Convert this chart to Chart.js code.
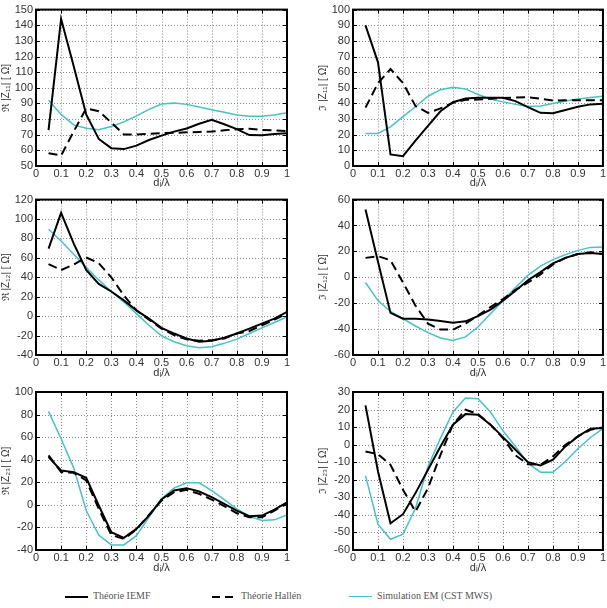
<!DOCTYPE html>
<html><head><meta charset="utf-8">
<script src="https://cdn.jsdelivr.net/npm/chart.js@4.4.0/dist/chart.umd.min.js"></script>
<style>
html,body{margin:0;padding:0;background:#fff;width:607px;height:608px;overflow:hidden;position:relative}
canvas{position:absolute;display:block}
.lt{position:absolute;top:590px;font-family:"Liberation Serif","DejaVu Serif",serif;font-size:10px;color:#555;white-space:nowrap;line-height:12px}
.ll{position:absolute;top:596px;height:0}
</style>
</head><body>
<canvas id="c1" width="300" height="190" style="left:0;top:0"></canvas>
<canvas id="c2" width="307" height="190" style="left:300px;top:0"></canvas>
<canvas id="c3" width="300" height="190" style="left:0;top:190px"></canvas>
<canvas id="c4" width="307" height="190" style="left:300px;top:190px"></canvas>
<canvas id="c5" width="300" height="195" style="left:0;top:380px"></canvas>
<canvas id="c6" width="307" height="195" style="left:300px;top:380px"></canvas>

<div class="ll" style="left:65px;width:23px;border-top:2px solid #000"></div>
<div class="lt" style="left:93px">Théorie IEMF</div>
<div class="ll" style="left:212px;width:8px;border-top:2px solid #000"></div>
<div class="ll" style="left:225px;width:8px;border-top:2px solid #000"></div>
<div class="lt" style="left:241px">Théorie Hallén</div>
<div class="ll" style="left:349px;width:23px;border-top:1.5px solid #45c4c4"></div>
<div class="lt" style="left:377px">Simulation EM (CST MWS)</div>

<script>
// ---- data ----
const xValues = [0.05,0.1,0.15,0.2,0.25,0.3,0.35,0.4,0.45,0.5,0.55,0.6,0.65,0.7,0.75,0.8,0.85,0.9,0.95,1.0];
const seriesNames = ["Théorie IEMF","Théorie Hallén","Simulation EM (CST MWS)"];

// Re Z11
const re11_iemf   = [73,144,114,83,67.3,61.4,60.8,63,66.6,69.4,72,74,77,79.5,76.7,73.6,69.8,69.6,70.4,71];
const re11_hallen = [58.2,56.7,72,86.8,85,77.8,70.2,70.2,70.5,71,71.2,71.5,71.8,72,72.8,73.5,73.8,73,72.8,72.3];
const re11_cst    = [92,83,76.3,74.2,73.2,75.3,78.2,82,86.2,89.6,90.2,89.4,87.7,86,84.3,82.6,81.8,81.8,82.6,84];
// Im Z11
const im11_iemf   = [89.9,66.3,7.4,6.3,16.2,25.7,35,40.8,43.2,43.6,43.6,43.6,41.5,37.7,34,33.7,35.8,37.9,39.4,39.8];
const im11_hallen = [37.3,53,62,53,38.3,34,36.8,40.4,42.3,42.5,43,43.5,43.8,44,43,41.9,42,42,42,42];
const im11_cst    = [20.8,20.8,25,31.6,37.9,44.6,48.8,50.3,49.3,45.7,42.9,41,39.4,38,38.3,40,41.5,42.9,43.8,44.6];
// Re Z12
const re12_iemf   = [69.6,106.4,75,47.5,33.2,25.4,16.2,6,-2.6,-12,-17.9,-23,-26.4,-25.4,-22.3,-17.9,-12.8,-7.7,-2.6,4.3];
const re12_hallen = [53.6,47.5,53,60.4,54.6,40,21.3,6,-3.6,-12.8,-19.6,-23.7,-25.4,-24.7,-23,-17.9,-15.3,-9.5,-3.6,2.5];
const re12_cst    = [89.4,77.4,63.8,50.2,37.3,25.4,14.5,2.6,-9.4,-20.3,-26.4,-30.5,-32.5,-31.5,-28,-23.7,-17.9,-12.1,-6.6,-0.9];
// Im Z12
const im12_iemf   = [52.4,12,-27.5,-32,-32,-32.5,-33.8,-35,-34,-30,-25,-18,-10.4,-2.3,4,10.7,15,18,18.8,18];
const im12_hallen = [15,16.3,13.2,-4,-21.9,-35.8,-40.4,-40.4,-35.8,-29.5,-23,-16.8,-9.7,-4,2.3,9.9,15,18,19.3,18];
const im12_cst    = [-4,-18,-26.4,-32,-37.6,-42.7,-46.8,-48.8,-46,-38.4,-28.2,-18,-7.9,1.5,8.6,13.7,17.5,20.8,23.1,23.4];
// Re Z23
const re23_iemf   = [42.3,30.5,29,24,-0.6,-24.3,-29.3,-21.3,-9.5,4.7,12.7,14.8,11.8,6.8,0.9,-5.1,-10.1,-9.5,-4.2,2.3];
const re23_hallen = [43.8,29,28.4,21.6,-3.6,-26.7,-30.2,-21.9,-8.9,3.8,11.2,13.3,9.7,4.7,-1.2,-7.4,-11,-11,-5,1];
const re23_cst    = [82.8,58.6,32.8,-5,-26.7,-35.5,-35.5,-27.3,-11,5.3,14.8,19.5,19.5,12.7,4.7,-3.6,-10.1,-13.9,-13.3,-8.9];
// Im Z23
const im23_iemf   = [22.4,-15.3,-44.8,-39.6,-27.6,-14.3,-1,11.4,17.4,17.1,11.4,4.3,-2.9,-10,-11.9,-8.6,-1,4.7,9.1,9.5];
const im23_hallen = [-3.9,-5.4,-11.5,-25.7,-38.1,-24.8,-5.8,11.4,19.9,17.4,11.4,3.7,-6.1,-11.1,-11.5,-6.7,0,4.7,8.5,9.8];
const im23_cst    = [-17.6,-45.3,-53.9,-51,-36.2,-12.4,3.7,18.6,26.6,26.2,18.6,7.9,-1,-10.5,-15.7,-15.7,-9.6,-2.3,4.1,9.1];

// axis settings per panel
const yTitles = ["ℜ |Z₁₁| [ Ω]","ℑ |Z₁₁| [ Ω]","ℜ |Z₁₂| [ Ω]","ℑ |Z₁₂| [ Ω]","ℜ |Z₂₃| [ Ω]","ℑ |Z₂₃| [ Ω]"];
const yRanges = [[50,150,10],[0,100,10],[-40,120,20],[-60,60,20],[-40,100,20],[-60,30,10]];
const xTitle = "dᵢ/λ";

const CYAN = '#45c4c4';
const framePlugin = {
  id:'frame',
  beforeDatasetsDraw(chart){
    // dotted grid
    const {ctx, chartArea:a, scales} = chart;
    ctx.save();
    ctx.strokeStyle = '#8a8a8a';
    ctx.lineWidth = 1;
    ctx.setLineDash([1,2]);
    ctx.beginPath();
    scales.x.ticks.forEach(t=>{
      const px = Math.round(scales.x.getPixelForValue(t.value))+0.5;
      ctx.moveTo(px,a.top); ctx.lineTo(px,a.bottom);
    });
    scales.y.ticks.forEach(t=>{
      const py = Math.round(scales.y.getPixelForValue(t.value))+0.5;
      ctx.moveTo(a.left,py); ctx.lineTo(a.right,py);
    });
    ctx.stroke();
    ctx.restore();
  },
  afterDatasetsDraw(chart){
    const {ctx, chartArea:a, scales} = chart;
    ctx.save();
    ctx.strokeStyle = '#000';
    ctx.lineWidth = 1;
    ctx.beginPath();
    scales.x.ticks.forEach(t=>{
      const px = Math.round(scales.x.getPixelForValue(t.value))+0.5;
      ctx.moveTo(px,a.bottom); ctx.lineTo(px,a.bottom-4);
      ctx.moveTo(px,a.top); ctx.lineTo(px,a.top+4);
    });
    scales.y.ticks.forEach(t=>{
      const py = Math.round(scales.y.getPixelForValue(t.value))+0.5;
      ctx.moveTo(a.left,py); ctx.lineTo(a.left+4,py);
      ctx.moveTo(a.right,py); ctx.lineTo(a.right-4,py);
    });
    ctx.stroke();
    ctx.lineWidth = 2;
    ctx.strokeRect(a.left, a.top, a.right-a.left, a.bottom-a.top);
    ctx.restore();
  }
};

function makeChart(id, idx, padL, padR, padT, axisH, sets){
  const r = yRanges[idx];
  const toPts = arr => xValues.map((x,i)=>({x, y:arr[i]}));
  new Chart(document.getElementById(id), {
    type:'line',
    data:{datasets:[
      {label:seriesNames[0], data:toPts(sets[0]), borderColor:'#000', borderWidth:2, pointRadius:0, tension:0},
      {label:seriesNames[1], data:toPts(sets[1]), borderColor:'#000', borderWidth:2, borderDash:[9,5], pointRadius:0, tension:0},
      {label:seriesNames[2], data:toPts(sets[2]), borderColor:CYAN, borderWidth:1.5, pointRadius:0, tension:0}
    ]},
    options:{
      responsive:false, animation:false, devicePixelRatio:1,
      layout:{padding:{left:padL,right:padR,top:padT,bottom:0}},
      plugins:{legend:{display:false}, tooltip:{enabled:false}},
      scales:{
        x:{type:'linear', min:0, max:1,
          ticks:{stepSize:0.1, color:'#333', font:{family:'Liberation Sans', size:11}, padding:1, maxRotation:0, autoSkip:false,
                 callback:v=>String(Number(v.toFixed(2)))},
          grid:{color:'rgba(0,0,0,0)', drawTicks:false},
          border:{display:false},
          title:{display:true, text:xTitle, color:'#333', font:{family:'Liberation Sans', size:11}, padding:{top:0,bottom:0}},
          afterFit(s){ s.height = axisH; }
        },
        y:{type:'linear', min:r[0], max:r[1],
          ticks:{stepSize:r[2], color:'#333', font:{family:'Liberation Sans', size:11}, padding:3, autoSkip:false},
          grid:{color:'rgba(0,0,0,0)', drawTicks:false},
          border:{display:false},
          title:{display:true, text:yTitles[idx], color:'#333', font:{family:'Liberation Sans', size:10}, padding:{top:0,bottom:0}},
          afterFit(s){ s.width = 36; }
        }
      }
    },
    plugins:[framePlugin]
  });
}

makeChart('c1',0, 0,13,7,24, [re11_iemf,re11_hallen,re11_cst]);
makeChart('c2',1,17,4,7,24, [im11_iemf,im11_hallen,im11_cst]);
makeChart('c3',2, 0,13,8,25, [re12_iemf,re12_hallen,re12_cst]);
makeChart('c4',3,17,4,8,25, [im12_iemf,im12_hallen,im12_cst]);
makeChart('c5',4, 0,13,12,25, [re23_iemf,re23_hallen,re23_cst]);
makeChart('c6',5,17,4,12,25, [im23_iemf,im23_hallen,im23_cst]);
</script>
</body></html>
